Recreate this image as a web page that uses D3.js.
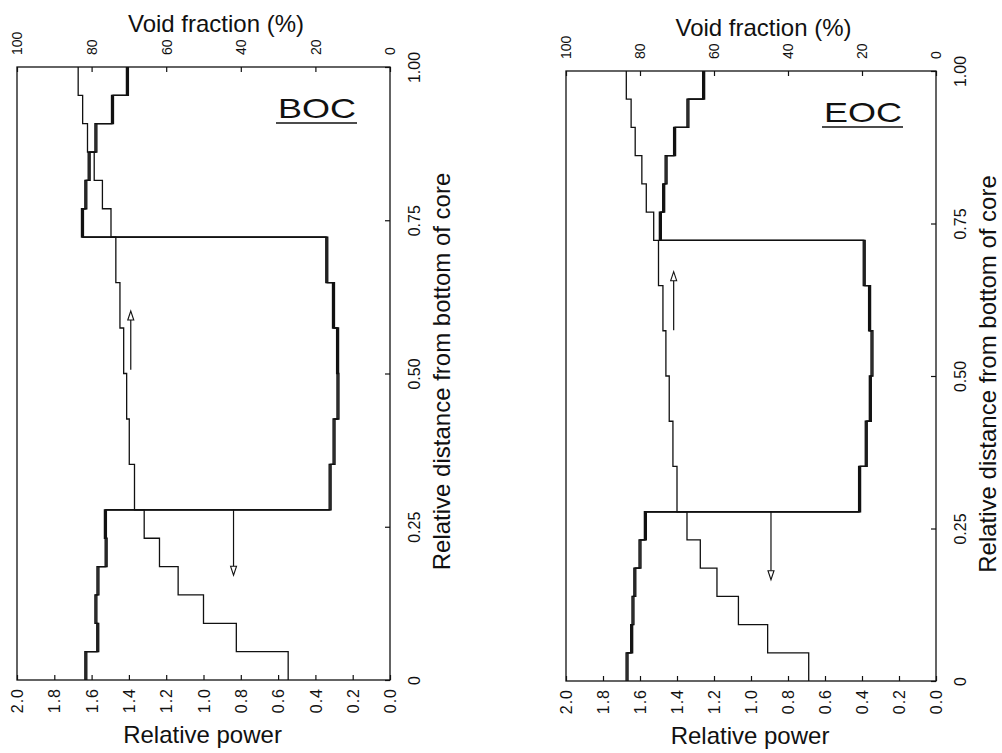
<!DOCTYPE html>
<html>
<head>
<meta charset="utf-8">
<script src="https://cdn.jsdelivr.net/npm/d3@7"></script>
<style>
  body { margin: 0; background: #fff; }
  svg { display: block; font-family: "Liberation Sans", Arial, sans-serif; }
</style>
</head>
<body>
<div id="chart"></div>
<script>
// axial segment edges, relative distance from bottom of core
// lower blanket (6), core (6), upper blanket (6)
const zEdges = [0, 0.04625, 0.0925, 0.13875, 0.185, 0.23125, 0.2775,
  0.3517, 0.4258, 0.5, 0.5742, 0.6483, 0.7225,
  0.76875, 0.815, 0.86125, 0.9075, 0.95375, 1.0];

// values per segment, bottom to top
const bocPower = [1.631, 1.567, 1.577, 1.566, 1.522, 1.526,
  0.321, 0.300, 0.279, 0.281, 0.303, 0.339,
  1.649, 1.631, 1.613, 1.577, 1.488, 1.408];
const bocVoid = [27.3, 41.2, 50.0, 56.8, 61.8, 65.9,
  68.5, 69.9, 70.6, 71.4, 72.4, 73.5,
  74.8, 77.1, 79.3, 81.1, 82.4, 83.6];
const eocPower = [1.670, 1.645, 1.638, 1.628, 1.600, 1.571,
  0.413, 0.377, 0.355, 0.346, 0.359, 0.388,
  1.490, 1.472, 1.459, 1.413, 1.341, 1.256];
const eocVoid = [34.4, 45.5, 53.4, 59.2, 63.7, 67.3,
  70.0, 71.1, 72.1, 73.0, 73.8, 75.0,
  76.3, 78.3, 79.5, 81.3, 82.4, 83.7];

// arrows: [relative power, from z, to z]
const bocArrows = [[1.39, 0.506, 0.602], [0.839, 0.2775, 0.171]];
const eocArrows = [[1.418, 0.575, 0.671], [0.892, 0.2787, 0.166]];

const powerTicks = [2.0, 1.8, 1.6, 1.4, 1.2, 1.0, 0.8, 0.6, 0.4, 0.2, 0.0];
const voidTicks = [100, 80, 60, 40, 20, 0];
const distanceTicks = [0, 0.25, 0.5, 0.75, 1.0];

const ink = '#111';

const svg = d3.select('#chart')
  .append('svg')
  .attr('width', 1002)
  .attr('height', 753);

function stepPoints(values) {
  const pts = [];
  values.forEach((v, i) => {
    pts.push([v, zEdges[i]]);
    pts.push([v, zEdges[i + 1]]);
  });
  return pts;
}

function styleTicks(axisG) {
  axisG.select('.domain').remove();
  axisG.attr('font-family', null).attr('font-size', null);
  axisG.selectAll('.tick line').attr('stroke', ink).attr('stroke-width', 1.2);
  axisG.selectAll('.tick text').attr('fill', ink);
}

function drawPanel(panel) {
  const [x0, x1, y0, y1] = panel.box;
  const xPow = d3.scaleLinear().domain([2, 0]).range([x0, x1]);
  const xVoid = d3.scaleLinear().domain([100, 0]).range([x0, x1]);
  const yZ = d3.scaleLinear().domain([0, 1]).range([y1, y0]);
  const g = svg.append('g');

  // top axis: void fraction
  const top = g.append('g')
    .attr('transform', `translate(0,${y0})`)
    .call(d3.axisTop(xVoid).tickValues(voidTicks).tickSize(-5).tickFormat(d3.format('d')));
  styleTicks(top);
  top.selectAll('.tick text')
    .attr('transform', 'rotate(-90)')
    .attr('x', 12).attr('y', 0).attr('dy', '0.35em')
    .attr('text-anchor', 'start')
    .attr('font-size', 14);

  // bottom axis: relative power
  const bottom = g.append('g')
    .attr('transform', `translate(0,${y1})`)
    .call(d3.axisBottom(xPow).tickValues(powerTicks).tickSize(-5).tickFormat(d3.format('.1f')));
  styleTicks(bottom);
  bottom.selectAll('.tick text')
    .attr('transform', 'rotate(-90)')
    .attr('x', -8).attr('y', 0).attr('dy', '0.35em')
    .attr('text-anchor', 'end')
    .attr('font-size', 16)
    .attr('letter-spacing', 1);

  // right axis: relative distance
  const right = g.append('g')
    .attr('transform', `translate(${x1},0)`)
    .call(d3.axisRight(yZ).tickValues(distanceTicks).tickSize(-5)
      .tickFormat((d) => (d === 0 ? '0' : d3.format('.2f')(d))));
  styleTicks(right);
  right.selectAll('.tick text')
    .attr('transform', 'rotate(-90)')
    .attr('x', 0).attr('y', 29.5).attr('dy', 0)
    .attr('text-anchor', 'middle')
    .attr('font-size', 16);

  // frame
  g.append('rect')
    .attr('x', x0).attr('y', y0)
    .attr('width', x1 - x0).attr('height', y1 - y0)
    .attr('fill', 'none')
    .attr('stroke', ink)
    .attr('stroke-width', 1.3);

  // void fraction: thin step line
  const voidLine = d3.line().x((d) => xVoid(d[0])).y((d) => yZ(d[1]));
  g.append('path')
    .attr('d', voidLine(stepPoints(panel.voids)))
    .attr('fill', 'none')
    .attr('stroke', ink)
    .attr('stroke-width', 1.3);

  // relative power: bold step line (overstruck sideways)
  const powerLine = d3.line().x((d) => xPow(d[0])).y((d) => yZ(d[1]));
  [-1, 0, 1].forEach((dx) => {
    g.append('path')
      .attr('d', powerLine(stepPoints(panel.power)))
      .attr('transform', `translate(${dx},0)`)
      .attr('fill', 'none')
      .attr('stroke', ink)
      .attr('stroke-width', 1.3);
  });

  // arrows
  panel.arrows.forEach(([p, zFrom, zTo]) => {
    const x = xPow(p);
    const tip = yZ(zTo);
    const dir = zTo > zFrom ? 1 : -1;
    const base = tip + dir * 9;
    g.append('line')
      .attr('x1', x).attr('x2', x)
      .attr('y1', yZ(zFrom)).attr('y2', base)
      .attr('stroke', ink)
      .attr('stroke-width', 1.2);
    g.append('path')
      .attr('d', `M${x - 3},${base}L${x},${tip}L${x + 3},${base}Z`)
      .attr('fill', '#fff')
      .attr('stroke', ink)
      .attr('stroke-width', 1.1);
  });

  // BOC / EOC tag, underlined
  g.append('text')
    .attr('x', x1 - 112)
    .attr('y', y0 + 50.5)
    .attr('font-size', 28)
    .attr('textLength', 78)
    .attr('lengthAdjust', 'spacingAndGlyphs')
    .attr('fill', ink)
    .text(panel.label);
  g.append('line')
    .attr('x1', x1 - 114).attr('x2', x1 - 33)
    .attr('y1', y0 + 56).attr('y2', y0 + 56)
    .attr('stroke', ink)
    .attr('stroke-width', 1.5);

  // axis titles
  const cx = (x0 + x1) / 2;
  g.append('text')
    .attr('x', cx + 12.5)
    .attr('y', y0 - 35.5)
    .attr('text-anchor', 'middle')
    .attr('font-size', 24)
    .attr('fill', ink)
    .text('Void fraction (%)');
  g.append('text')
    .attr('x', cx - 1)
    .attr('y', y1 + 63)
    .attr('text-anchor', 'middle')
    .attr('font-size', 24)
    .attr('fill', ink)
    .text('Relative power');
  g.append('text')
    .attr('transform', `translate(${x1 + 60},${(y0 + y1) / 2 - 2}) rotate(-90)`)
    .attr('text-anchor', 'middle')
    .attr('font-size', 24)
    .attr('fill', ink)
    .text('Relative distance from bottom of core');
}

const panels = [
  { label: 'BOC', power: bocPower, voids: bocVoid, arrows: bocArrows, box: [17, 390, 67, 680] },
  { label: 'EOC', power: eocPower, voids: eocVoid, arrows: eocArrows, box: [566, 936, 71, 681] }
];

panels.forEach(drawPanel);
</script>
</body>
</html>
